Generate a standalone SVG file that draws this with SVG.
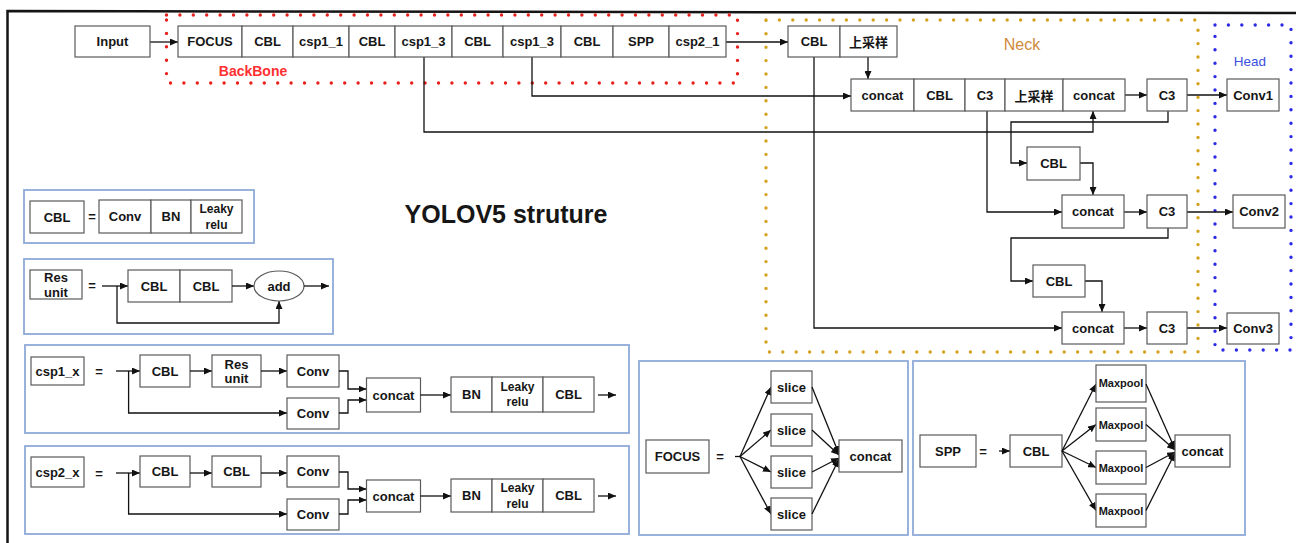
<svg xmlns="http://www.w3.org/2000/svg" width="1296" height="543" viewBox="0 0 1296 543">
  <defs>
    <marker id="ah" markerUnits="userSpaceOnUse" markerWidth="8" markerHeight="7" refX="8" refY="3.5" orient="auto">
      <path d="M0,0 L8,3.5 L0,7 z" fill="#111"/>
    </marker>
    <style>
      .box{fill:#fff;stroke:#5a5a5a;stroke-width:1.2}
      .panel{fill:#fff;stroke:#8eaad8;stroke-width:1.8}
      .t{font-family:"Liberation Sans",Arial,"Noto Sans CJK SC",sans-serif;font-weight:bold;font-size:13px;fill:#161616;text-anchor:middle;dominant-baseline:central}
      .cjk{font-family:"Noto Sans CJK SC","Liberation Sans",sans-serif;font-size:13px}
      .sm{font-size:12px}
      .xs{font-size:11px}
      .wire{fill:none;stroke:#111;stroke-width:1.3;marker-end:url(#ah)}
      .line{fill:none;stroke:#111;stroke-width:1.3}
      .dots{fill:none;stroke-width:3.4;stroke-linecap:round;stroke-dasharray:0 13.4}
    </style>
  </defs>

  <rect width="1296" height="543" fill="#fff"/>
  <!-- outer frame -->
  <path d="M7.5,543 V11 L1296,13" fill="none" stroke="#151515" stroke-width="2.5"/>

  <!-- stage regions -->
  <g id="regions">
    <rect class="dots" x="166.5" y="15" width="571" height="68" stroke="#e8201c"/>
    <rect class="dots" x="766" y="20" width="432" height="332" stroke="#d4a21e"/>
    <rect class="dots" x="1215" y="25" width="76" height="325" stroke="#2a2ae8"/>
    <text class="t" x="253" y="71" style="fill:#ff3030;font-size:14px">BackBone</text>
    <text class="t" x="1022" y="44" style="fill:#d08a3c;font-weight:normal;font-size:16px">Neck</text>
    <text class="t" x="1250" y="61" style="fill:#3a4fe0;font-weight:normal;font-size:13.5px">Head</text>
  </g>

  <text class="t" x="506" y="214" style="font-size:25px">YOLOV5 struture</text>

  <!-- connectors -->
  <g id="connectors">
    <path class="wire" d="M150,42 H178"/>
    <path class="wire" d="M726,42 H788"/>
    <path class="wire" d="M868,57 V79"/>
    <path class="wire" d="M532,57 V96 H851"/>
    <path class="wire" d="M424,57 V132 H1093 V111"/>
    <path class="wire" d="M1125,95 H1147"/>
    <path class="wire" d="M1187,95 H1227"/>
    <path class="wire" d="M987,111 V212 H1062"/>
    <path class="wire" d="M1168,111 V122 H1011 V163 H1027"/>
    <path class="wire" d="M1080,163 H1093 V195"/>
    <path class="wire" d="M1124,212 H1147"/>
    <path class="wire" d="M1187,212 H1233"/>
    <path class="wire" d="M1168,228 V238 H1011 V281 H1033"/>
    <path class="wire" d="M1085,281 H1102 V312"/>
    <path class="wire" d="M814,57 V328 H1062"/>
    <path class="wire" d="M1124,328 H1147"/>
    <path class="wire" d="M1187,328 H1227"/>
  </g>

  <!-- main pipeline -->
  <g id="input"><rect class="box" x="75" y="26" width="75" height="31"/><text class="t" x="112.5" y="41.5">Input</text></g>
  <g id="backbone">
    <rect class="box" x="178" y="26" width="64" height="31"/><text class="t" x="210" y="41.5">FOCUS</text>
    <rect class="box" x="242" y="26" width="51" height="31"/><text class="t" x="267.5" y="41.5">CBL</text>
    <rect class="box" x="293" y="26" width="56" height="31"/><text class="t" x="321" y="41.5">csp1_1</text>
    <rect class="box" x="349" y="26" width="46" height="31"/><text class="t" x="372" y="41.5">CBL</text>
    <rect class="box" x="395" y="26" width="57" height="31"/><text class="t" x="423.5" y="41.5">csp1_3</text>
    <rect class="box" x="452" y="26" width="51" height="31"/><text class="t" x="477.5" y="41.5">CBL</text>
    <rect class="box" x="503" y="26" width="58" height="31"/><text class="t" x="532" y="41.5">csp1_3</text>
    <rect class="box" x="561" y="26" width="52" height="31"/><text class="t" x="587" y="41.5">CBL</text>
    <rect class="box" x="613" y="26" width="56" height="31"/><text class="t" x="641" y="41.5">SPP</text>
    <rect class="box" x="669" y="26" width="57" height="31"/><text class="t" x="697.5" y="41.5">csp2_1</text>
  </g>
  <g id="neck-top">
    <rect class="box" x="788" y="26" width="52" height="31"/><text class="t" x="814" y="41.5">CBL</text>
    <rect class="box" x="840" y="26" width="57" height="31"/><text class="t cjk" x="868.5" y="41.5">上采样</text>
  </g>
  <g id="neck-row1">
    <rect class="box" x="851" y="79" width="63" height="32"/><text class="t" x="882.5" y="95">concat</text>
    <rect class="box" x="914" y="79" width="51" height="32"/><text class="t" x="939.5" y="95">CBL</text>
    <rect class="box" x="965" y="79" width="40" height="32"/><text class="t" x="985" y="95">C3</text>
    <rect class="box" x="1005" y="79" width="58" height="32"/><text class="t cjk" x="1034" y="95">上采样</text>
    <rect class="box" x="1063" y="79" width="62" height="32"/><text class="t" x="1094" y="95">concat</text>
  </g>
  <g id="c3-a"><rect class="box" x="1147" y="79" width="40" height="32"/><text class="t" x="1167" y="95">C3</text></g>
  <g id="conv1"><rect class="box" x="1227" y="79" width="52" height="32"/><text class="t" x="1253" y="95">Conv1</text></g>
  <g id="cbl-n1"><rect class="box" x="1027" y="147" width="53" height="33"/><text class="t" x="1053.5" y="163.5">CBL</text></g>
  <g id="concat-b"><rect class="box" x="1062" y="195" width="62" height="33"/><text class="t" x="1093" y="211.5">concat</text></g>
  <g id="c3-b"><rect class="box" x="1147" y="195" width="40" height="33"/><text class="t" x="1167" y="211.5">C3</text></g>
  <g id="conv2"><rect class="box" x="1233" y="195" width="52" height="33"/><text class="t" x="1259" y="211.5">Conv2</text></g>
  <g id="cbl-n2"><rect class="box" x="1033" y="265" width="52" height="32"/><text class="t" x="1059" y="281">CBL</text></g>
  <g id="concat-c"><rect class="box" x="1062" y="312" width="62" height="32"/><text class="t" x="1093" y="328">concat</text></g>
  <g id="c3-c"><rect class="box" x="1147" y="312" width="40" height="32"/><text class="t" x="1167" y="328">C3</text></g>
  <g id="conv3"><rect class="box" x="1227" y="313" width="52" height="31"/><text class="t" x="1253" y="328.5">Conv3</text></g>

  <!-- legend: CBL -->
  <g id="legend-cbl">
    <rect class="panel" x="24" y="190" width="230" height="53"/>
    <rect class="box" x="30" y="201" width="54" height="32"/><text class="t" x="57" y="217">CBL</text>
    <text class="t" x="92" y="216">=</text>
    <rect class="box" x="99" y="200" width="52" height="33"/><text class="t" x="125" y="216.5">Conv</text>
    <rect class="box" x="151" y="200" width="40" height="33"/><text class="t" x="171" y="216.5">BN</text>
    <rect class="box" x="191" y="200" width="51" height="33"/>
    <text class="t sm" x="216.5" y="208.5">Leaky</text><text class="t sm" x="216.5" y="224.5">relu</text>
  </g>

  <!-- legend: Res unit -->
  <g id="legend-res">
    <rect class="panel" x="24" y="259" width="309" height="75"/>
    <rect class="box" x="30" y="270" width="52" height="29"/>
    <text class="t" x="56" y="277.5">Res</text><text class="t" x="56" y="292">unit</text>
    <text class="t" x="92" y="285">=</text>
    <path class="wire" d="M102,286 H128"/>
    <path class="wire" d="M117,286 V323 H279 V301"/>
    <rect class="box" x="128" y="270" width="52" height="32"/><text class="t" x="154" y="286">CBL</text>
    <rect class="box" x="180" y="270" width="52" height="32"/><text class="t" x="206" y="286">CBL</text>
    <path class="wire" d="M232,286 H254"/>
    <ellipse class="box" cx="279" cy="286" rx="25" ry="15"/><text class="t" x="279" y="286">add</text>
    <path class="wire" d="M304,286 H329"/>
  </g>

  <!-- legend: csp1_x -->
  <g id="legend-csp1">
    <rect class="panel" x="25" y="345" width="604" height="88"/>
    <rect class="box" x="31" y="357" width="53" height="28"/><text class="t" x="57.5" y="371">csp1_x</text>
    <text class="t" x="99" y="371">=</text>
    <path class="wire" d="M116,371 H140"/>
    <path class="wire" d="M128.6,371 V413 H287"/>
    <rect class="box" x="140" y="355" width="50" height="32"/><text class="t" x="165" y="371">CBL</text>
    <path class="wire" d="M190,371 H212"/>
    <rect class="box" x="212" y="355" width="49" height="32"/>
    <text class="t" x="236.5" y="364">Res</text><text class="t" x="236.5" y="378">unit</text>
    <path class="wire" d="M261,371 H287"/>
    <rect class="box" x="287" y="355" width="52" height="32"/><text class="t" x="313" y="371">Conv</text>
    <rect class="box" x="287" y="398" width="52" height="31"/><text class="t" x="313" y="413.5">Conv</text>
    <path class="wire" d="M339,371 H348 V389 H366.5"/>
    <path class="wire" d="M339,413 H348 V400 H366.5"/>
    <rect class="box" x="366.5" y="378" width="54" height="34"/><text class="t" x="393.5" y="395">concat</text>
    <path class="wire" d="M420.5,395 H451"/>
    <rect class="box" x="451" y="377" width="41" height="35"/><text class="t" x="471.5" y="394.5">BN</text>
    <rect class="box" x="492" y="377" width="51" height="35"/>
    <text class="t sm" x="517.5" y="387">Leaky</text><text class="t sm" x="517.5" y="402">relu</text>
    <rect class="box" x="543" y="377" width="51" height="35"/><text class="t" x="568.5" y="394.5">CBL</text>
    <path class="wire" d="M598,395 H616"/>
  </g>

  <!-- legend: csp2_x -->
  <g id="legend-csp2">
    <rect class="panel" x="25" y="446" width="604" height="88"/>
    <rect class="box" x="31" y="457" width="53" height="30"/><text class="t" x="57.5" y="472">csp2_x</text>
    <text class="t" x="99" y="473">=</text>
    <path class="wire" d="M116,473 H140"/>
    <path class="wire" d="M128.6,473 V514 H287"/>
    <rect class="box" x="140" y="456" width="50" height="31"/><text class="t" x="165" y="471.5">CBL</text>
    <path class="wire" d="M190,473 H212"/>
    <rect class="box" x="212" y="456" width="49" height="31"/><text class="t" x="236.5" y="471.5">CBL</text>
    <path class="wire" d="M261,473 H287"/>
    <rect class="box" x="287" y="456" width="52" height="31"/><text class="t" x="313" y="471.5">Conv</text>
    <rect class="box" x="287" y="499" width="52" height="31"/><text class="t" x="313" y="514.5">Conv</text>
    <path class="wire" d="M339,472 H348 V489 H366.5"/>
    <path class="wire" d="M339,514 H348 V500 H366.5"/>
    <rect class="box" x="366.5" y="480" width="54" height="32"/><text class="t" x="393.5" y="496">concat</text>
    <path class="wire" d="M420.5,496 H451"/>
    <rect class="box" x="451" y="479" width="41" height="33"/><text class="t" x="471.5" y="495.5">BN</text>
    <rect class="box" x="492" y="479" width="51" height="33"/>
    <text class="t sm" x="517.5" y="488">Leaky</text><text class="t sm" x="517.5" y="504">relu</text>
    <rect class="box" x="543" y="479" width="51" height="33"/><text class="t" x="568.5" y="495.5">CBL</text>
    <path class="wire" d="M598,496 H616"/>
  </g>

  <!-- legend: FOCUS -->
  <g id="legend-focus">
    <rect class="panel" x="639" y="361" width="269" height="174"/>
    <rect class="box" x="646" y="440" width="63" height="33"/><text class="t" x="677.5" y="456.5">FOCUS</text>
    <text class="t" x="720" y="456">=</text>
    <path class="line" d="M735,456.5 H740"/>
    <path class="wire" d="M740,456.5 L771,387"/>
    <path class="wire" d="M740,456.5 L771,430"/>
    <path class="wire" d="M740,456.5 L771,472"/>
    <path class="wire" d="M740,456.5 L771,514"/>
    <rect class="box" x="771" y="371" width="41" height="32"/><text class="t" x="791.5" y="387">slice</text>
    <rect class="box" x="771" y="414" width="41" height="32"/><text class="t" x="791.5" y="430">slice</text>
    <rect class="box" x="771" y="456" width="41" height="32"/><text class="t" x="791.5" y="472">slice</text>
    <rect class="box" x="771" y="498" width="41" height="32"/><text class="t" x="791.5" y="514">slice</text>
    <path class="wire" d="M812,387 L839,454"/>
    <path class="wire" d="M812,430 L839,455"/>
    <path class="wire" d="M812,472 L839,458"/>
    <path class="wire" d="M812,514 L839,459"/>
    <rect class="box" x="839" y="440" width="63" height="32"/><text class="t" x="870.5" y="456">concat</text>
  </g>

  <!-- legend: SPP -->
  <g id="legend-spp">
    <rect class="panel" x="913" y="361" width="332" height="174"/>
    <rect class="box" x="920" y="435" width="56" height="32"/><text class="t" x="948" y="451">SPP</text>
    <text class="t" x="983" y="451">=</text>
    <path class="wire" d="M999,451 H1010"/>
    <rect class="box" x="1010" y="435" width="52" height="32"/><text class="t" x="1036" y="451">CBL</text>
    <path class="wire" d="M1062,451 L1096,384"/>
    <path class="wire" d="M1062,451 L1096,424.5"/>
    <path class="wire" d="M1062,451 L1096,467.5"/>
    <path class="wire" d="M1062,451 L1096,510.5"/>
    <rect class="box" x="1096" y="365" width="50" height="37"/><text class="t xs" x="1121" y="383">Maxpool</text>
    <rect class="box" x="1096" y="408" width="50" height="33"/><text class="t xs" x="1121" y="424.5">Maxpool</text>
    <rect class="box" x="1096" y="451" width="50" height="33"/><text class="t xs" x="1121" y="467.5">Maxpool</text>
    <rect class="box" x="1096" y="494" width="50" height="33"/><text class="t xs" x="1121" y="510.5">Maxpool</text>
    <path class="wire" d="M1146,384 L1175,449"/>
    <path class="wire" d="M1146,424.5 L1175,450"/>
    <path class="wire" d="M1146,467.5 L1175,452"/>
    <path class="wire" d="M1146,510.5 L1175,453"/>
    <rect class="box" x="1175" y="435" width="55" height="32"/><text class="t" x="1202.5" y="451">concat</text>
  </g>
</svg>
